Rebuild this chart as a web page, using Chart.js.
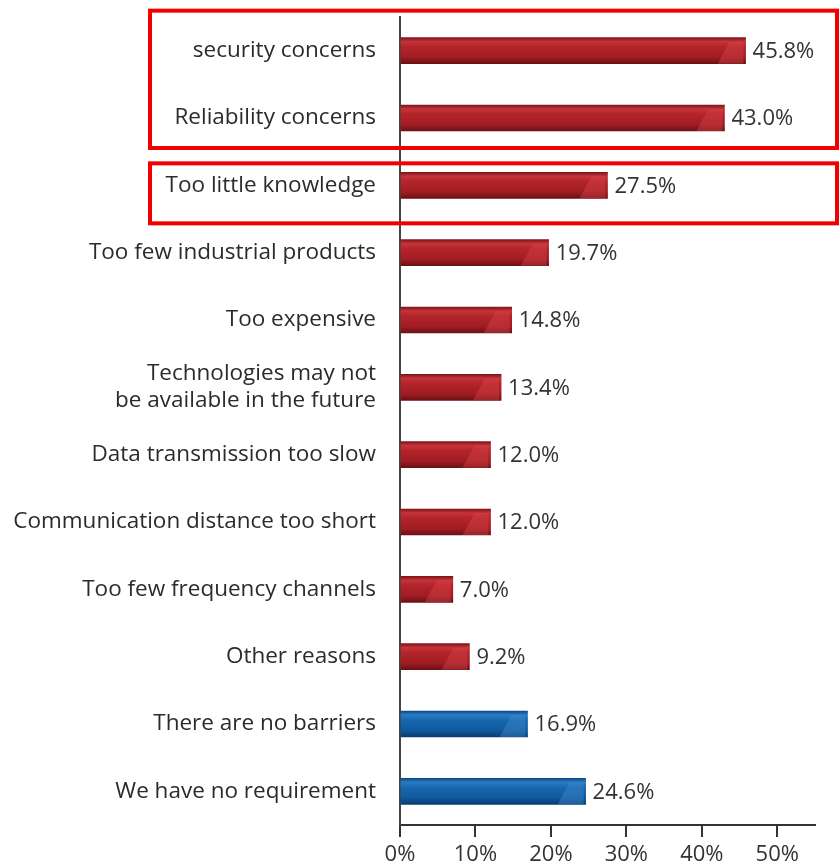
<!DOCTYPE html>
<html>
<head>
<meta charset="utf-8">
<title>Barriers</title>
<script src="https://cdn.jsdelivr.net/npm/chart.js@4/dist/chart.umd.min.js"></script>
<style>
  html, body { margin: 0; padding: 0; background: #fff; }
  #wrap { width: 839px; height: 868px; position: relative; }
</style>
</head>
<body>
<div id="wrap"><canvas id="barrierChart"></canvas></div>
<script>
// Survey answers, top to bottom
const categories = [
  "security concerns",
  "Reliability concerns",
  "Too little knowledge",
  "Too few industrial products",
  "Too expensive",
  ["Technologies may not", "be available in the future"],
  "Data transmission too slow",
  "Communication distance too short",
  "Too few frequency channels",
  "Other reasons",
  "There are no barriers",
  "We have no requirement"
];
const shares = [45.8, 43.0, 27.5, 19.7, 14.8, 13.4, 12.0, 12.0, 7.0, 9.2, 16.9, 24.6];
// last two answers are not barriers -> blue
const barrierGroup = ["r", "r", "r", "r", "r", "r", "r", "r", "r", "r", "b", "b"];
const xTicks = [0, 10, 20, 30, 40, 50];

const FONT = "'Open Sans', 'Noto Sans', sans-serif";

// vertical gradient gives the bars a rounded, tube-like look
function barFill(ctx) {
  const chart = ctx.chart;
  const y = chart.scales.y;
  if (!y || !chart.chartArea) return "#b0232a";
  const cy = y.getPixelForValue(ctx.dataIndex);
  const g = chart.ctx.createLinearGradient(0, cy - 13, 0, cy + 13);
  if (barrierGroup[ctx.dataIndex] === "b") {
    g.addColorStop(0, "#0b4a86");
    g.addColorStop(0.15, "#2a7cc2");
    g.addColorStop(0.35, "#1767ae");
    g.addColorStop(0.75, "#0f5a9e");
    g.addColorStop(1, "#0a3c70");
  } else {
    g.addColorStop(0, "#7e1519");
    g.addColorStop(0.15, "#c4343a");
    g.addColorStop(0.35, "#b3242a");
    g.addColorStop(0.75, "#a01d23");
    g.addColorStop(1, "#6c1014");
  }
  return g;
}

// value text after each bar, plus a lighter facet at the bar end
const valueLabels = {
  id: "valueLabels",
  afterDatasetsDraw(chart) {
    const ctx = chart.ctx;
    const meta = chart.getDatasetMeta(0);
    ctx.save();
    meta.data.forEach((bar, i) => {
      const h = bar.height;
      const blue = barrierGroup[i] === "b";
      // end facet
      ctx.fillStyle = blue ? "rgba(70,140,210,0.4)" : "rgba(220,70,75,0.4)";
      ctx.beginPath();
      ctx.moveTo(bar.x - 28, bar.y + h / 2);
      ctx.lineTo(bar.x - 16, bar.y - h / 2 + 4);
      ctx.lineTo(bar.x - 2, bar.y - h / 2 + 4);
      ctx.lineTo(bar.x - 2, bar.y + h / 2);
      ctx.closePath();
      ctx.fill();

      ctx.fillStyle = "#333";
      ctx.font = "22px " + FONT;
      ctx.textAlign = "left";
      ctx.textBaseline = "middle";
      ctx.fillText(shares[i].toFixed(1) + "%", bar.x + 7, bar.y + 1);
    });
    ctx.restore();
  }
};

// red highlight frames around the leading answers
const frames = {
  id: "frames",
  afterDraw(chart) {
    const ctx = chart.ctx;
    const y = chart.scales.y;
    const right = chart.width - 2;
    const boxes = [
      [y.getPixelForValue(0) - 40, y.getPixelForValue(1) + 30],
      [y.getPixelForValue(2) - 22, y.getPixelForValue(2) + 38]
    ];
    ctx.save();
    ctx.strokeStyle = "#f20000";
    ctx.lineWidth = 4;
    boxes.forEach(([top, bottom]) => {
      ctx.strokeRect(150, top, right - 150, bottom - top);
    });
    ctx.restore();
  }
};

new Chart(document.getElementById("barrierChart"), {
  type: "bar",
  data: {
    labels: categories,
    datasets: [{
      data: shares,
      backgroundColor: barFill,
      barThickness: 26,
      borderWidth: 0
    }]
  },
  options: {
    indexAxis: "y",
    responsive: true,
    maintainAspectRatio: false,
    animation: false,
    layout: { padding: { top: 17, right: 24, left: 0, bottom: 0 } },
    plugins: {
      legend: { display: false },
      tooltip: { enabled: false }
    },
    scales: {
      x: {
        min: 0,
        max: 55,
        afterBuildTicks(scale) {
          scale.ticks = xTicks.map(v => ({ value: v }));
        },
        afterFit(scale) {
          scale.height = 43;
          scale.paddingLeft = 0;
          scale.paddingRight = 0;
        },
        grid: {
          drawOnChartArea: false,
          drawTicks: true,
          tickLength: 12,
          color: "#333",
          lineWidth: 2
        },
        border: { display: true, color: "#333", width: 2 },
        ticks: {
          padding: 5,
          color: "#333",
          font: { size: 22, family: FONT },
          callback: v => v + "%"
        }
      },
      y: {
        afterFit(scale) {
          scale.width = 400;
          scale.paddingTop = 0;
          scale.paddingBottom = 0;
        },
        grid: { display: false },
        border: { display: true, color: "#444", width: 2 },
        ticks: {
          padding: 16,
          color: "#2b2b2b",
          font: { size: 22.5, family: FONT, lineHeight: 1.2 }
        }
      }
    }
  },
  plugins: [valueLabels, frames]
});
</script>
</body>
</html>
